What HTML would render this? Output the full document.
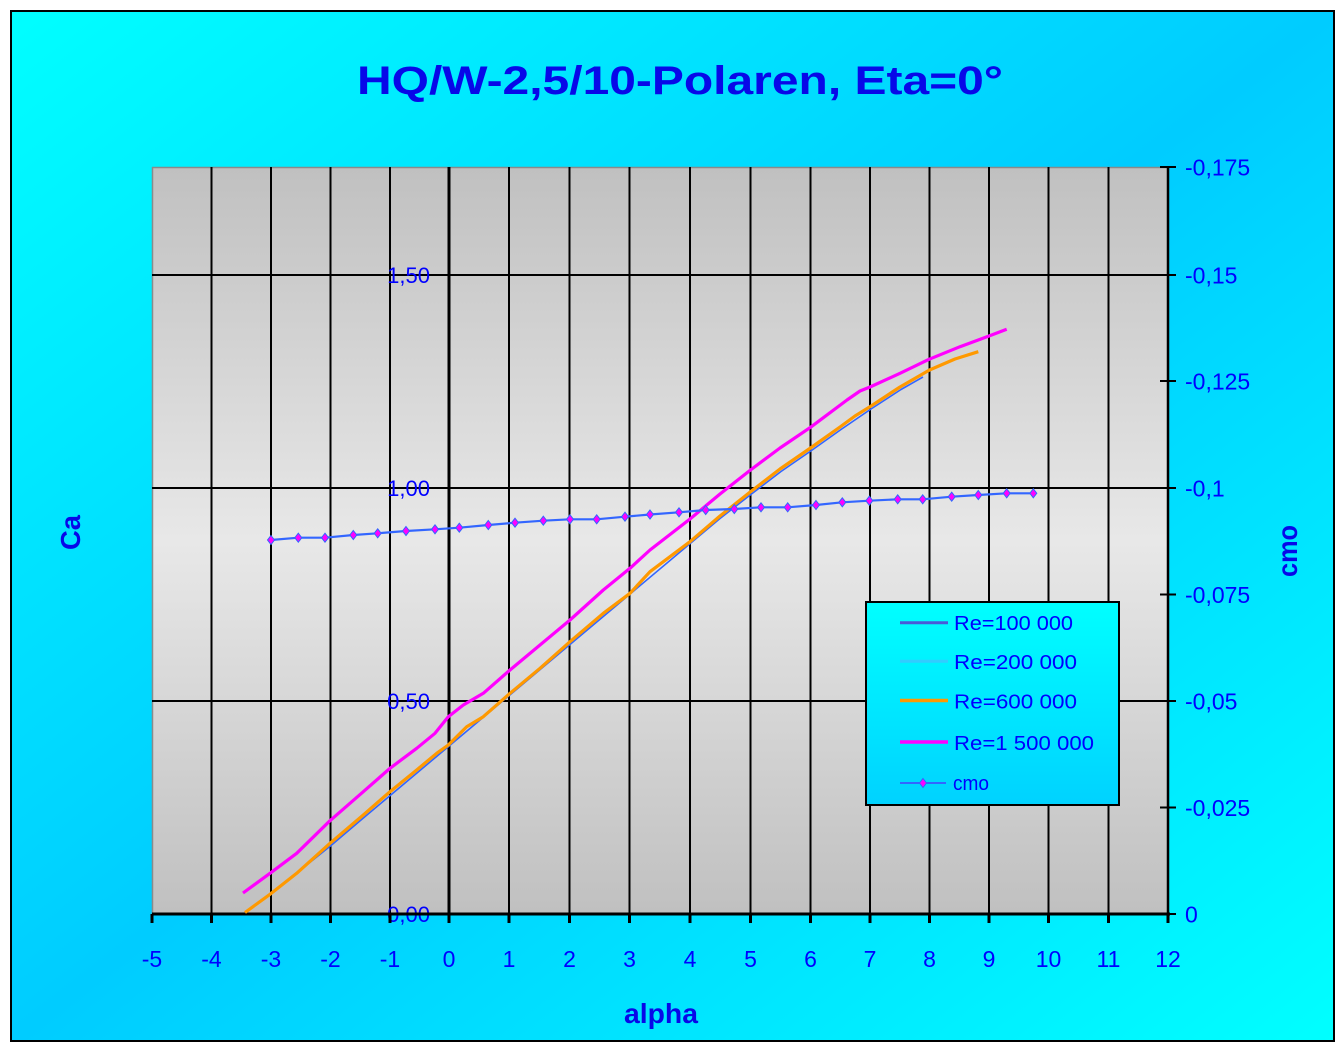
<!DOCTYPE html>
<html>
<head>
<meta charset="utf-8">
<style>
html,body{margin:0;padding:0;background:#fff;}
svg{display:block;}
text{font-family:"Liberation Sans",sans-serif;}
</style>
</head>
<body>
<svg width="1344" height="1049" viewBox="0 0 1344 1049" xmlns="http://www.w3.org/2000/svg">
<defs>
  <linearGradient id="bg" x1="0" y1="0" x2="1" y2="1">
    <stop offset="0" stop-color="#00FFFF"/>
    <stop offset="0.5" stop-color="#00CCFF"/>
    <stop offset="1" stop-color="#00FFFF"/>
  </linearGradient>
  <linearGradient id="plot" x1="0" y1="0" x2="0" y2="1">
    <stop offset="0" stop-color="#c0c0c0"/>
    <stop offset="0.5" stop-color="#e8e8e8"/>
    <stop offset="1" stop-color="#c0c0c0"/>
  </linearGradient>
  <linearGradient id="leg" x1="0" y1="0" x2="0" y2="1">
    <stop offset="0" stop-color="#00FFFF"/>
    <stop offset="1" stop-color="#00D2FF"/>
  </linearGradient>
</defs>

<rect x="0" y="0" width="1344" height="1049" fill="#fff"/>
<rect x="11" y="11" width="1323" height="1030" fill="url(#bg)" stroke="#000" stroke-width="2"/>

<!-- Title -->
<text x="357" y="94" font-size="40" font-weight="bold" fill="#0808E8" textLength="646" lengthAdjust="spacingAndGlyphs">HQ/W-2,5/10-Polaren, Eta=0°</text>

<!-- Plot area -->
<rect x="152" y="167" width="1016" height="747" fill="url(#plot)"/>
<line x1="152" y1="167.5" x2="1168" y2="167.5" stroke="#8a8a8a" stroke-width="1.5"/>
<line x1="152.5" y1="167" x2="152.5" y2="914" stroke="#8a8a8a" stroke-width="1.5"/>

<!-- vertical gridlines -->
<g stroke="#000" stroke-width="2">
  <line x1="211.5" y1="167" x2="211.5" y2="914"/>
  <line x1="271" y1="167" x2="271" y2="914"/>
  <line x1="330.5" y1="167" x2="330.5" y2="914"/>
  <line x1="390" y1="167" x2="390" y2="914"/>
  <line x1="509" y1="167" x2="509" y2="914"/>
  <line x1="569.5" y1="167" x2="569.5" y2="914"/>
  <line x1="629.5" y1="167" x2="629.5" y2="914"/>
  <line x1="690" y1="167" x2="690" y2="914"/>
  <line x1="750.5" y1="167" x2="750.5" y2="914"/>
  <line x1="810.5" y1="167" x2="810.5" y2="914"/>
  <line x1="870" y1="167" x2="870" y2="914"/>
  <line x1="929.5" y1="167" x2="929.5" y2="914"/>
  <line x1="989" y1="167" x2="989" y2="914"/>
  <line x1="1048.5" y1="167" x2="1048.5" y2="914"/>
  <line x1="1108.5" y1="167" x2="1108.5" y2="914"/>
</g>
<!-- horizontal gridlines -->
<g stroke="#000" stroke-width="2">
  <line x1="152" y1="275" x2="1168" y2="275"/>
  <line x1="152" y1="488" x2="1168" y2="488"/>
  <line x1="152" y1="701" x2="1168" y2="701"/>
</g>

<!-- Left axis at alpha=0 -->
<line x1="449" y1="167" x2="449" y2="914" stroke="#000" stroke-width="3"/>
<g stroke="#000" stroke-width="2">
  <line x1="443" y1="275" x2="449" y2="275"/>
  <line x1="443" y1="488" x2="449" y2="488"/>
  <line x1="443" y1="701" x2="449" y2="701"/>
  <line x1="443" y1="914" x2="449" y2="914"/>
</g>
<g font-size="22" fill="#0000FF" text-anchor="end">
  <text x="430" y="283">1,50</text>
  <text x="430" y="496">1,00</text>
  <text x="430" y="709">0,50</text>
  <text x="430" y="922">0,00</text>
</g>

<!-- Right axis -->
<line x1="1168" y1="167" x2="1168" y2="916" stroke="#000" stroke-width="2.5"/>
<g stroke="#000" stroke-width="2">
  <line x1="1160" y1="167" x2="1176" y2="167"/>
  <line x1="1160" y1="275" x2="1176" y2="275"/>
  <line x1="1160" y1="381" x2="1176" y2="381"/>
  <line x1="1160" y1="488" x2="1176" y2="488"/>
  <line x1="1160" y1="594.5" x2="1176" y2="594.5"/>
  <line x1="1160" y1="701" x2="1176" y2="701"/>
  <line x1="1160" y1="807.5" x2="1176" y2="807.5"/>
  <line x1="1160" y1="914" x2="1176" y2="914"/>
</g>
<g font-size="23" fill="#0000FF">
  <text x="1185" y="175.5">-0,175</text>
  <text x="1185" y="283.5">-0,15</text>
  <text x="1185" y="389.5">-0,125</text>
  <text x="1185" y="496.5">-0,1</text>
  <text x="1185" y="603">-0,075</text>
  <text x="1185" y="709.5">-0,05</text>
  <text x="1185" y="816">-0,025</text>
  <text x="1185" y="922.5">0</text>
</g>

<!-- X axis -->
<line x1="152" y1="914" x2="1170" y2="914" stroke="#000" stroke-width="3"/>
<g stroke="#000" stroke-width="3">
  <line x1="152" y1="914" x2="152" y2="923"/>
  <line x1="211.5" y1="914" x2="211.5" y2="923"/>
  <line x1="271" y1="914" x2="271" y2="923"/>
  <line x1="330.5" y1="914" x2="330.5" y2="923"/>
  <line x1="390" y1="914" x2="390" y2="923"/>
  <line x1="449" y1="914" x2="449" y2="923"/>
  <line x1="509" y1="914" x2="509" y2="923"/>
  <line x1="569.5" y1="914" x2="569.5" y2="923"/>
  <line x1="629.5" y1="914" x2="629.5" y2="923"/>
  <line x1="690" y1="914" x2="690" y2="923"/>
  <line x1="750.5" y1="914" x2="750.5" y2="923"/>
  <line x1="810.5" y1="914" x2="810.5" y2="923"/>
  <line x1="870" y1="914" x2="870" y2="923"/>
  <line x1="929.5" y1="914" x2="929.5" y2="923"/>
  <line x1="989" y1="914" x2="989" y2="923"/>
  <line x1="1048.5" y1="914" x2="1048.5" y2="923"/>
  <line x1="1108.5" y1="914" x2="1108.5" y2="923"/>
  <line x1="1168" y1="914" x2="1168" y2="923"/>
</g>
<g font-size="23" fill="#0000FF" text-anchor="middle">
  <text x="152" y="967">-5</text>
  <text x="211.5" y="967">-4</text>
  <text x="271" y="967">-3</text>
  <text x="330.5" y="967">-2</text>
  <text x="390" y="967">-1</text>
  <text x="449" y="967">0</text>
  <text x="509" y="967">1</text>
  <text x="569.5" y="967">2</text>
  <text x="629.5" y="967">3</text>
  <text x="690" y="967">4</text>
  <text x="750.5" y="967">5</text>
  <text x="810.5" y="967">6</text>
  <text x="870" y="967">7</text>
  <text x="929.5" y="967">8</text>
  <text x="989" y="967">9</text>
  <text x="1048.5" y="967">10</text>
  <text x="1108.5" y="967">11</text>
  <text x="1168" y="967">12</text>
</g>

<!-- Axis titles -->
<text x="624" y="1023" font-size="28" font-weight="bold" fill="#0808E8" textLength="74" lengthAdjust="spacingAndGlyphs">alpha</text>
<text transform="translate(80,532.5) rotate(-90)" text-anchor="middle" font-size="28" font-weight="bold" fill="#0808E8" textLength="35" lengthAdjust="spacingAndGlyphs">Ca</text>
<text transform="translate(1297,551) rotate(-90)" text-anchor="middle" font-size="28" font-weight="bold" fill="#0808E8" textLength="52" lengthAdjust="spacingAndGlyphs">cmo</text>

<!-- Series -->
<!-- Re=100000 (mostly hidden under orange) -->
<polyline fill="none" stroke="#3366FF" stroke-width="1.6" stroke-linejoin="round"
  points="298,872 331,845.5 361,820 720,518.5 751.5,494 781,471.5 811.5,450.5 841,429.5 871,409 901,389.5 923,377"/>
<!-- Re=600000 orange -->
<polyline fill="none" stroke="#FF9900" stroke-width="3.2" stroke-linejoin="round"
  points="245,912.5 270,894.3 296.7,873.3 330,843.3 363.3,815 390,791.7 416.7,770 436.7,753.3 448.3,745 466.7,726.7 483.3,716.7 510,693.3 540,668.3 570,641.7 603.3,613.3 630,593.3 650,571.7 690,541.7 720,516 750.5,491.7 780,469 810.5,448 840,427 855,416 870,406.7 900,387 929.5,370 955,359 978.3,351.7"/>
<!-- Re=1500000 magenta -->
<polyline fill="none" stroke="#FF00FF" stroke-width="3.2" stroke-linejoin="round"
  points="243,893 270,873.3 296.7,853.3 330,820.7 363.3,791.7 390,768.3 416.7,748.3 435,733.3 448.3,716.7 463.3,705 483.3,693.3 510,670 540,645 570,620 603.3,590 630,568.3 650,550 690,519 720,494 750.5,470 780,448 810.5,427.3 847,400 860,391 870,387 900,373.3 929,359.3 960,346.7 989,336 1006.7,329.3"/>

<!-- cmo -->
<polyline fill="none" stroke="#3366FF" stroke-width="2.2" stroke-linejoin="round"
  points="271,540 298.3,537.7 325,537.7 353.3,535 377.7,533.3 406,531 435,529.3 459.3,527.7 488.3,525 515,522.7 543.3,520.7 570,519.3 596.7,519.3 625,516.7 650,514.5 679,512.3 705.7,510 734.3,509 761,507.3 787.7,507.3 816,505 842.3,502.3 869.3,500.7 897.7,499.3 922.7,499.3 951.7,496.7 978.3,495 1006.7,493.3 1033.3,493.3"/>
<g fill="#FF00FF" stroke="#3366FF" stroke-width="1">
  <path d="M271 535.5L274.5 540L271 544.5L267.5 540Z"/>
  <path d="M298.3 533.2L301.8 537.7L298.3 542.2L294.8 537.7Z"/>
  <path d="M325 533.2L328.5 537.7L325 542.2L321.5 537.7Z"/>
  <path d="M353.3 530.5L356.8 535L353.3 539.5L349.8 535Z"/>
  <path d="M377.7 528.8L381.2 533.3L377.7 537.8L374.2 533.3Z"/>
  <path d="M406 526.5L409.5 531L406 535.5L402.5 531Z"/>
  <path d="M435 524.8L438.5 529.3L435 533.8L431.5 529.3Z"/>
  <path d="M459.3 523.2L462.8 527.7L459.3 532.2L455.8 527.7Z"/>
  <path d="M488.3 520.5L491.8 525L488.3 529.5L484.8 525Z"/>
  <path d="M515 518.2L518.5 522.7L515 527.2L511.5 522.7Z"/>
  <path d="M543.3 516.2L546.8 520.7L543.3 525.2L539.8 520.7Z"/>
  <path d="M570 514.8L573.5 519.3L570 523.8L566.5 519.3Z"/>
  <path d="M596.7 514.8L600.2 519.3L596.7 523.8L593.2 519.3Z"/>
  <path d="M625 512.2L628.5 516.7L625 521.2L621.5 516.7Z"/>
  <path d="M650 510L653.5 514.5L650 519L646.5 514.5Z"/>
  <path d="M679 507.8L682.5 512.3L679 516.8L675.5 512.3Z"/>
  <path d="M705.7 505.5L709.2 510L705.7 514.5L702.2 510Z"/>
  <path d="M734.3 504.5L737.8 509L734.3 513.5L730.8 509Z"/>
  <path d="M761 502.8L764.5 507.3L761 511.8L757.5 507.3Z"/>
  <path d="M787.7 502.8L791.2 507.3L787.7 511.8L784.2 507.3Z"/>
  <path d="M816 500.5L819.5 505L816 509.5L812.5 505Z"/>
  <path d="M842.3 497.8L845.8 502.3L842.3 506.8L838.8 502.3Z"/>
  <path d="M869.3 496.2L872.8 500.7L869.3 505.2L865.8 500.7Z"/>
  <path d="M897.7 494.8L901.2 499.3L897.7 503.8L894.2 499.3Z"/>
  <path d="M922.7 494.8L926.2 499.3L922.7 503.8L919.2 499.3Z"/>
  <path d="M951.7 492.2L955.2 496.7L951.7 501.2L948.2 496.7Z"/>
  <path d="M978.3 490.5L981.8 495L978.3 499.5L974.8 495Z"/>
  <path d="M1006.7 488.8L1010.2 493.3L1006.7 497.8L1003.2 493.3Z"/>
  <path d="M1033.3 488.8L1036.8 493.3L1033.3 497.8L1029.8 493.3Z"/>
</g>

<!-- Legend -->
<rect x="866" y="602" width="253" height="203" fill="url(#leg)" stroke="#000" stroke-width="2"/>
<line x1="900" y1="622.7" x2="948" y2="622.7" stroke="#4a5ad8" stroke-width="3"/>
<line x1="900" y1="661.3" x2="948" y2="661.3" stroke="#33CCFF" stroke-width="3"/>
<line x1="900" y1="700.5" x2="948" y2="700.5" stroke="#FF9900" stroke-width="3.5"/>
<line x1="900" y1="742" x2="948" y2="742" stroke="#FF00FF" stroke-width="3.5"/>
<line x1="900" y1="783" x2="946" y2="783" stroke="#3366FF" stroke-width="2"/>
<path d="M923 778.5L926.5 783L923 787.5L919.5 783Z" fill="#FF00FF" stroke="#3366FF" stroke-width="1"/>
<g font-size="20" fill="#0000FF">
  <text x="954" y="630" textLength="119" lengthAdjust="spacingAndGlyphs">Re=100 000</text>
  <text x="954" y="669" textLength="123" lengthAdjust="spacingAndGlyphs">Re=200 000</text>
  <text x="954" y="708.5" textLength="123" lengthAdjust="spacingAndGlyphs">Re=600 000</text>
  <text x="954" y="750" textLength="140" lengthAdjust="spacingAndGlyphs">Re=1 500 000</text>
  <text x="953" y="790" textLength="36" lengthAdjust="spacingAndGlyphs">cmo</text>
</g>
</svg>
</body>
</html>
